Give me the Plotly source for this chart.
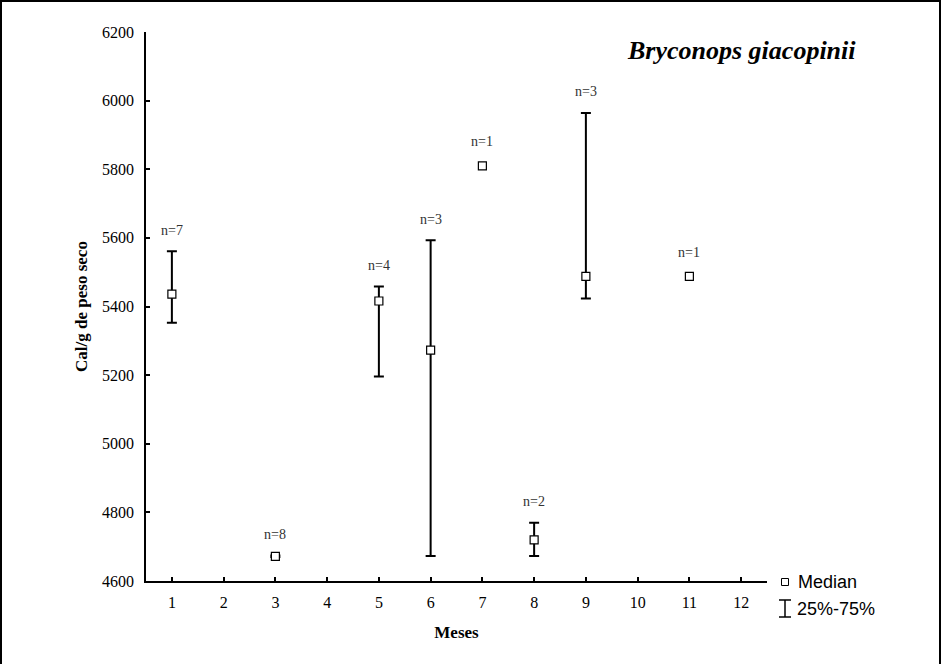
import plotly.graph_objects as go

# ---- data ----
months = [1, 3, 5, 6, 7, 8, 9, 11]
median = [5436, 4672, 5416, 5273, 5810, 4720, 5488, 5488]
q1 = [5353, 4670, 5196, 4673, 5810, 4673, 5423, 5488]
q3 = [5561, 4674, 5458, 5593, 5810, 4770, 5964, 5488]
n_obs = [7, 8, 4, 3, 1, 2, 3, 1]
x_ticks = list(range(1, 13))
y_ticks = list(range(4600, 6201, 200))

W, H = 942, 664
L, R, T, B = 146, 175, 32, 83
PW, PH = W - L - R, H - T - B


def px(x):
    return (x - L) / PW


def py(y):
    return (H - B - y) / PH


serif = "'Liberation Serif', 'Times New Roman', serif"
sans = "'Liberation Sans', Arial, sans-serif"

fig = go.Figure()

# error bars (only where n>1)
ex = [m for m, n in zip(months, n_obs) if n > 1]
ey = [md for md, n in zip(median, n_obs) if n > 1]
eplus = [u - md for u, md, n in zip(q3, median, n_obs) if n > 1]
eminus = [md - lo for lo, md, n in zip(q1, median, n_obs) if n > 1]
fig.add_trace(go.Scatter(
    x=ex, y=ey, mode="markers",
    marker=dict(size=1, color="rgba(0,0,0,0)"),
    error_y=dict(type="data", symmetric=False, array=eplus, arrayminus=eminus,
                 color="black", thickness=2, width=5),
    showlegend=False, hoverinfo="skip"))

# median markers
fig.add_trace(go.Scatter(
    x=months, y=median, mode="markers",
    marker=dict(symbol="square", size=8, color="white",
                line=dict(color="black", width=1.2)),
    showlegend=False))

# n labels
for m, md, u, n in zip(months, median, q3, n_obs):
    fig.add_annotation(x=m, y=u, text=f"n={n}", showarrow=False,
                       yshift=24 if n == 1 else 21,
                       font=dict(family=serif, size=14, color="#333"))

# title
fig.add_annotation(xref="paper", yref="paper", x=px(858), y=py(50),
                   xanchor="right", yanchor="middle", showarrow=False,
                   text="<b><i>Bryconops giacopinii</i></b>",
                   font=dict(family=serif, size=26, color="black"))

# legend (manual)
fig.add_shape(type="rect", xref="paper", yref="paper",
              x0=px(781.5), x1=px(788.5), y0=py(578.5), y1=py(585.5),
              line=dict(color="black", width=1), fillcolor="white")
fig.add_annotation(xref="paper", yref="paper", x=px(796), y=py(582),
                   xanchor="left", yanchor="middle", showarrow=False,
                   text="Median", font=dict(family=sans, size=18, color="black"))
for seg in [(785, 600, 785, 617), (779, 600, 791, 600), (779, 617, 791, 617)]:
    fig.add_shape(type="line", xref="paper", yref="paper",
                  x0=px(seg[0]), y0=py(seg[1]), x1=px(seg[2]), y1=py(seg[3]),
                  line=dict(color="black", width=1.5))
fig.add_annotation(xref="paper", yref="paper", x=px(795), y=py(609),
                   xanchor="left", yanchor="middle", showarrow=False,
                   text="25%-75%", font=dict(family=sans, size=18, color="black"))

# outer frame
fig.add_shape(type="rect", xref="paper", yref="paper",
              x0=px(1), x1=px(940), y0=py(670), y1=py(1),
              line=dict(color="black", width=2), fillcolor="rgba(0,0,0,0)")

fig.update_layout(
    width=W, height=H,
    margin=dict(l=L, r=R, t=T, b=B, pad=0),
    paper_bgcolor="white", plot_bgcolor="white",
    font=dict(family=serif, color="black"),
    showlegend=False,
)
fig.update_xaxes(
    range=[0.5, 12.5], tickvals=x_ticks, ticktext=[str(v) for v in x_ticks],
    showgrid=False, zeroline=False, showline=True, linecolor="black", linewidth=1.5,
    ticks="inside", ticklen=4, tickcolor="black", tickwidth=1.5,
    ticklabelstandoff=6,
    tickfont=dict(family=serif, size=16, color="black"),
    title=dict(text="<b>Meses</b>", font=dict(family=serif, size=17, color="black"),
               standoff=16),
)
fig.update_yaxes(
    range=[4600, 6200], tickvals=y_ticks, ticktext=[str(v) for v in y_ticks],
    showgrid=False, zeroline=False, showline=True, linecolor="black", linewidth=1.5,
    ticks="inside", ticklen=4, tickcolor="black", tickwidth=1.5,
    ticklabelstandoff=7,
    tickfont=dict(family=serif, size=16, color="black"),
    title=dict(text="<b>Cal/g de peso seco</b>", font=dict(family=serif, size=17, color="black"),
               standoff=10),
)

fig.write_html("out.html")
